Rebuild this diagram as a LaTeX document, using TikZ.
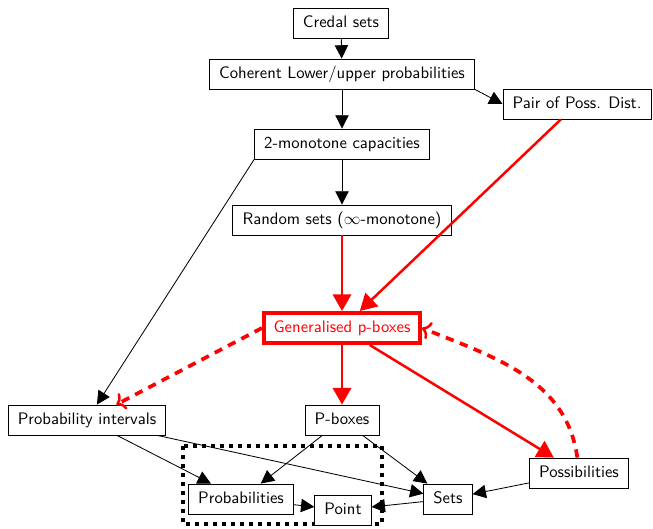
\documentclass[tikz,border=0pt]{standalone}
\usetikzlibrary{arrows.meta}
\begin{document}
\begin{tikzpicture}[x=0.6pt,y=-0.6pt,
 box/.style={draw,font=\sffamily,inner xsep=5.8pt,inner ysep=4pt,text height=7.5pt,text depth=2.5pt,line width=0.5pt,fill=white},
 blk/.style={-{Triangle[length=8pt,width=8pt]},line width=0.5pt},
 redarr/.style={red,line width=1.5pt,-{Triangle[length=10pt,width=11pt]}},
 reddash/.style={red,line width=2.2pt,dash pattern=on 5pt off 4pt,-{Computer Modern Rightarrow[length=5pt,width=11pt,line width=1.5pt]}},
 dotbox/.style={line width=2.4pt,dash pattern=on 2.4pt off 3pt}]
\useasboundingbox (0,0) rectangle (653,528);
\draw[dotbox] (183,446) rectangle (382,524);
\node[box] (credal) at (341,23) {Credal sets};
\node[box] (coh) at (342,74) {Coherent Lower/upper probabilities};
\node[box] (pair) at (577,104) {Pair of Poss. Dist.};
\node[box] (mono) at (342,144) {2-monotone capacities};
\node[box] (rs) at (342,220) {Random sets ($\infty$-monotone)};
\node[box,draw=red,text=red,line width=2.4pt] (gen) at (342,328) {Generalised p-boxes};
\node[box] (pi) at (87,420) {Probability intervals};
\node[box] (pb) at (342,420) {P-boxes};
\node[box] (poss) at (579,473) {Possibilities};
\node[box] (prob) at (241,499) {Probabilities};
\node[box] (point) at (343,510) {Point};
\node[box] (sets) at (448,499) {Sets};
\draw[blk] (credal) -- (coh);
\draw[blk] (coh.south east) -- (pair.west);
\draw[blk] (coh) -- (mono);
\draw[blk] (mono) -- (rs);
\draw[blk] (mono.south west) -- (pi);
\draw[redarr] (rs) -- (gen);
\draw[redarr] (pair) -- (gen);
\draw[redarr] (gen) -- (pb);
\draw[redarr] (gen) -- (poss);
\draw[reddash] (gen.west) -- (pi);
\draw[reddash] ([xshift=-1pt]poss.north) to[out=98,in=-22] (gen.east);
\draw[blk] (pi) -- (prob);
\draw[blk] (pi) -- (sets);
\draw[blk] (pb) -- (prob);
\draw[blk] (pb) -- (sets);
\draw[blk] (poss) -- (sets);
\draw[blk] (prob) -- (point);
\draw[blk] (sets) -- (point);
\end{tikzpicture}
\end{document}
